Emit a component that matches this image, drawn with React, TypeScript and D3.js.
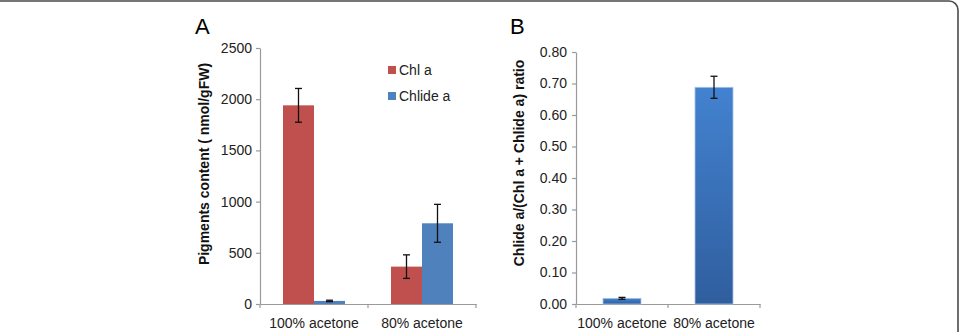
import React, { useEffect, useRef } from 'react';
import * as d3 from 'd3';

const categories = ['100% acetone', '80% acetone'];
const seriesNames = ['Chl a', 'Chlide a'];
const chlA = [1940, 365];
const chlAErr = [165, 115];
const chlideA = [30, 788];
const chlideAErr = [7, 185];
const ratio = [0.018, 0.688];
const ratioErr = [0.003, 0.035];
const ticksA = [0, 500, 1000, 1500, 2000, 2500];
const ticksB = [0, 0.1, 0.2, 0.3, 0.4, 0.5, 0.6, 0.7, 0.8];

const seriesColors = ['#C0504D', '#4F81BD'];
const font = '"Liberation Sans", Arial, Helvetica, sans-serif';

function App() {
    const chartRef = useRef<SVGSVGElement | null>(null);

    useEffect(() => {
        const svg = d3.select(chartRef.current);
        svg.selectAll('*').remove();

        // frame
        svg.append('path')
            .attr('d', 'M0,1 H949 A9,9 0 0 1 958,10 V332')
            .attr('fill', 'none')
            .attr('stroke', '#4a4a4a')
            .attr('stroke-width', 1.6);

        const defs = svg.append('defs');
        const grad = defs.append('linearGradient')
            .attr('id', 'blueGrad')
            .attr('x1', 0).attr('y1', 0).attr('x2', 0).attr('y2', 1);
        grad.append('stop').attr('offset', '0%').attr('stop-color', '#4382D0');
        grad.append('stop').attr('offset', '100%').attr('stop-color', '#2F5E9E');

        const drawErr = (g: any, cx: number, yTop: number, yBot: number) => {
            g.append('line').attr('x1', cx).attr('x2', cx).attr('y1', yTop).attr('y2', yBot)
                .attr('stroke', '#111').attr('stroke-width', 1.3);
            [yTop, yBot].forEach(yy => {
                g.append('line').attr('x1', cx - 3.5).attr('x2', cx + 3.5).attr('y1', yy).attr('y2', yy)
                    .attr('stroke', '#111').attr('stroke-width', 1.3);
            });
        };

        const axisStyle = (g: any) => {
            g.select('.domain').attr('stroke', '#9a9a9a').attr('stroke-width', 1.2);
            g.selectAll('.tick line').attr('stroke', '#9a9a9a').attr('stroke-width', 1.2);
            g.selectAll('.tick text').attr('fill', '#222').attr('font-size', 14).attr('font-family', font);
        };

        // ---------- Panel A ----------
        const xA = d3.scaleBand().domain(categories).range([260, 476]);
        const yA = d3.scaleLinear().domain([0, 2500]).range([304, 48]);
        const inner = d3.scaleBand().domain(seriesNames).range([0, 62]);
        const gA = svg.append('g');

        const yAxA = gA.append('g').attr('transform', 'translate(260,0)')
            .call(d3.axisLeft(yA).tickValues(ticksA).tickSize(4).tickSizeOuter(0).tickPadding(4).tickFormat(d3.format('d')));
        axisStyle(yAxA);

        const xAxA = gA.append('g').attr('transform', 'translate(0,304)')
            .call(d3.axisBottom(xA).tickSize(0).tickPadding(14));
        axisStyle(xAxA);
        [260, 368, 476].forEach(x => {
            xAxA.append('line').attr('x1', x).attr('x2', x).attr('y1', 0).attr('y2', 4)
                .attr('stroke', '#9a9a9a').attr('stroke-width', 1.2);
        });

        const seriesA = [
            { name: seriesNames[0], vals: chlA, errs: chlAErr, color: seriesColors[0] },
            { name: seriesNames[1], vals: chlideA, errs: chlideAErr, color: seriesColors[1] },
        ];
        seriesA.forEach(s => {
            categories.forEach((c, i) => {
                const x0 = (xA(c) as number) + xA.bandwidth() / 2 - 31 + (inner(s.name) as number);
                gA.append('rect')
                    .attr('x', x0).attr('width', inner.bandwidth())
                    .attr('y', yA(s.vals[i])).attr('height', yA(0) - yA(s.vals[i]))
                    .attr('fill', s.color);
            });
        });
        seriesA.forEach(s => {
            categories.forEach((c, i) => {
                const cx = (xA(c) as number) + xA.bandwidth() / 2 - 31 + (inner(s.name) as number) + inner.bandwidth() / 2;
                drawErr(gA, cx, yA(s.vals[i] + s.errs[i]), yA(s.vals[i] - s.errs[i]));
            });
        });

        // legend
        seriesA.forEach((s, i) => {
            const ly = 70 + i * 26;
            gA.append('rect').attr('x', 388).attr('y', ly - 4).attr('width', 8).attr('height', 8).attr('fill', s.color);
            gA.append('text').attr('x', 399).attr('y', ly + 5)
                .attr('font-size', 14).attr('font-family', font).attr('fill', '#222').text(s.name);
        });

        gA.append('text').attr('x', 195).attr('y', 34)
            .attr('font-size', 22).attr('font-family', font).attr('fill', '#000').text('A');
        gA.append('text')
            .attr('transform', 'translate(209,164) rotate(-90)')
            .attr('text-anchor', 'middle').attr('font-size', 14).attr('font-weight', 'bold')
            .attr('font-family', font).attr('fill', '#111')
            .text('Pigments content ( nmol/gFW)');

        // ---------- Panel B ----------
        const xB = d3.scaleBand().domain(categories).range([576, 760]);
        const yB = d3.scaleLinear().domain([0, 0.8]).range([304, 52]);
        const gB = svg.append('g');

        const yAxB = gB.append('g').attr('transform', 'translate(576,0)')
            .call(d3.axisLeft(yB).tickValues(ticksB).tickSize(4).tickSizeOuter(0).tickPadding(5).tickFormat(d3.format('.2f')));
        axisStyle(yAxB);

        const xAxB = gB.append('g').attr('transform', 'translate(0,304)')
            .call(d3.axisBottom(xB).tickSize(0).tickPadding(14));
        axisStyle(xAxB);
        [576, 668, 760].forEach(x => {
            xAxB.append('line').attr('x1', x).attr('x2', x).attr('y1', 0).attr('y2', 4)
                .attr('stroke', '#9a9a9a').attr('stroke-width', 1.2);
        });

        const bwB = 38;
        categories.forEach((c, i) => {
            const cx = (xB(c) as number) + xB.bandwidth() / 2;
            gB.append('rect')
                .attr('x', cx - bwB / 2).attr('width', bwB)
                .attr('y', yB(ratio[i])).attr('height', yB(0) - yB(ratio[i]))
                .attr('fill', 'url(#blueGrad)')
                .attr('stroke', '#A9C4E6').attr('stroke-width', 0.8);
            drawErr(gB, cx, yB(ratio[i] + ratioErr[i]), yB(ratio[i] - ratioErr[i]));
        });

        gB.append('text').attr('x', 510).attr('y', 34)
            .attr('font-size', 22).attr('font-family', font).attr('fill', '#000').text('B');
        gB.append('text')
            .attr('transform', 'translate(524,163) rotate(-90)')
            .attr('text-anchor', 'middle').attr('font-size', 14).attr('font-weight', 'bold')
            .attr('font-family', font).attr('fill', '#111')
            .text('Chlide a/(Chl a + Chlide a) ratio');
    }, []);

    return (
        <svg ref={chartRef} width={961} height={332}
            style={{ position: 'absolute', left: 0, top: 0, background: '#fff' }} />
    );
}

export default App;
